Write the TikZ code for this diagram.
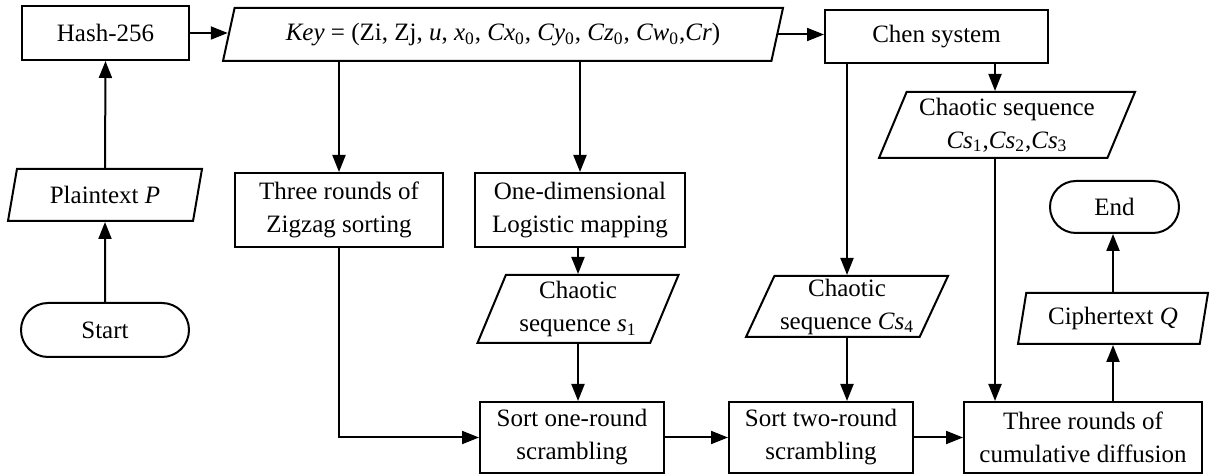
\documentclass[tikz,border=0pt]{standalone}
\usepackage{fontspec}
\setmainfont{Liberation Serif}
\usetikzlibrary{arrows.meta,shapes.geometric,shapes.misc}
\newcommand{\idx}[1]{\textsubscript{#1}}

\begin{document}
\begin{tikzpicture}[x=0.5pt,y=-0.5pt,
                    procND/.style={rectangle,
                                   draw,
                                   line width=1pt,
                                   inner sep=0pt,
                                   align=center},
                    ioND/.style={trapezium,
                                 trapezium left angle=63,
                                 trapezium right angle=117,
                                 trapezium stretches body,
                                 draw,
                                 line width=1pt,
                                 inner sep=0pt,
                                 align=center},
                    termND/.style={rounded rectangle,
                                   draw,
                                   line width=1pt,
                                   inner sep=0pt},
                    flow/.style={-{Triangle[length=8.5pt,width=6.5pt]},
                                 line width=1pt},
                    font=\fontsize{12.5}{16.5}\selectfont]
    \useasboundingbox (0,0) rectangle (1210,474);
    % top row
    \node[procND, minimum width=83.5pt, minimum height=27pt](hash) at (105.5,33) {Hash-256};
    \node[ioND, minimum width=280pt, minimum height=26.5pt](key) at (503,34.5)
        {\textit{Key} = (Zi, Zj, \textit{u}, \textit{x}\idx{0}, \textit{Cx}\idx{0}, \textit{Cy}\idx{0}, \textit{Cz}\idx{0}, \textit{Cw}\idx{0},\textit{Cr})};
    \node[procND, minimum width=111.5pt, minimum height=26.5pt](chen) at (936.5,36.5) {Chen system};
    % left column
    \node[ioND, minimum width=97pt, minimum height=26pt](plain) at (105,195) {Plaintext \textit{P}};
    \node[termND, minimum width=84pt, minimum height=27pt](start) at (105,330) {Start};
    % middle
    \node[procND, minimum width=104pt, minimum height=37pt](zigzag) at (339,210) {Three rounds of\\Zigzag sorting};
    \node[procND, minimum width=105pt, minimum height=37pt](logis) at (580,210) {One-dimensional\\Logistic mapping};
    \node[ioND, minimum width=100.5pt, minimum height=34pt](seqS) at (578,309) {Chaotic\\sequence \textit{s}\idx{1}};
    \node[ioND, minimum width=101pt, minimum height=30.5pt](seqCf) at (847,306.5) {Chaotic\\sequence \textit{Cs}\idx{4}};
    \node[ioND, minimum width=128pt, minimum height=33pt](seqCa) at (1007,125)
        {Chaotic sequence\\\textit{Cs}\idx{1},\textit{Cs}\idx{2},\textit{Cs}\idx{3}};
    % bottom row
    \node[procND, minimum width=92pt, minimum height=35.5pt](sortA) at (572,437.5) {Sort one-round\\scrambling};
    \node[procND, minimum width=92pt, minimum height=35.5pt](sortB) at (821,437.5) {Sort two-round\\scrambling};
    \node[procND, minimum width=119pt, minimum height=35.5pt](diff) at (1083,437.5) {Three rounds of\\cumulative diffusion};
    % right column
    \node[ioND, trapezium left angle=70, trapezium right angle=110,
          minimum width=95pt, minimum height=25.5pt](cipher) at (1113,318.5) {Ciphertext \textit{Q}};
    \node[termND, minimum width=64.5pt, minimum height=26pt](end) at (1114.5,207) {End};

    \draw[flow] (start.north) -- (plain.south);
    \draw[flow] (plain.north) -- (hash.south);
    \draw[flow] (hash.east) -- (hash.east -| key.west);
    \draw[flow] (key.east) -- (key.east -| chen.west);
    \draw[flow] (zigzag.north |- key.south) -- (zigzag.north);
    \draw[flow] (logis.north |- key.south) -- (logis.north);
    \draw[flow] (logis.south -| seqS.north) -- (seqS.north);
    \draw[flow] (seqS.south) -- (seqS.south |- sortA.north);
    \draw[flow] (zigzag.south) |- (sortA.west);
    \draw[flow] (sortA.east) -- (sortB.west);
    \draw[flow] (sortB.east) -- (diff.west);
    \draw[flow] (seqCf.north |- chen.south) -- (seqCf.north);
    \draw[flow] (seqCf.south) -- (seqCf.south |- sortB.north);
    \draw[flow] ([xshift=-6pt]seqCa.north |- chen.south) -- ([xshift=-6pt]seqCa.north);
    \draw[flow] ([xshift=-6pt]seqCa.south) -- ([xshift=-6pt]seqCa.south |- diff.north);
    \draw[flow] (cipher.south |- diff.north) -- (cipher.south);
    \draw[flow] (cipher.north) -- (cipher.north |- end.south);
\end{tikzpicture}
\end{document}
